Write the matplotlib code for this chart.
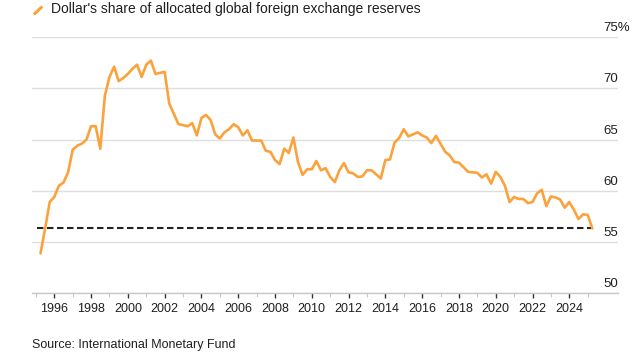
import matplotlib
matplotlib.use("Agg")
import matplotlib.pyplot as plt
import matplotlib.transforms as mtransforms
from matplotlib.lines import Line2D

plt.rcParams['font.family'] = ['Liberation Sans', 'DejaVu Sans']

# ---- data (quarterly, 1995Q1 .. 2025Q1) ----
start_year = 1995
usd_share = [
    53.9, 56.3, 58.9, 59.4, 60.5, 60.8, 61.8, 64.0, 64.4, 64.6,
    65.0, 66.3, 66.3, 64.1, 69.3, 71.1, 72.1, 70.7, 71.0, 71.4,
    71.9, 72.3, 71.1, 72.3, 72.7, 71.4, 71.5, 71.6, 68.5, 67.5,
    66.5, 66.4, 66.3, 66.6, 65.4, 67.1, 67.4, 66.9, 65.5, 65.1,
    65.7, 66.0, 66.5, 66.2, 65.4, 65.9, 64.9, 64.9, 64.9, 63.9,
    63.8, 63.0, 62.6, 64.1, 63.7, 65.2, 62.8, 61.55, 62.1, 62.1,
    62.9, 62.0, 62.2, 61.35, 60.85, 62.0, 62.7, 61.8, 61.7, 61.35,
    61.4, 62.0, 62.0, 61.6, 61.2, 63.0, 63.05, 64.7, 65.15, 66.0,
    65.3, 65.5, 65.7, 65.4, 65.2, 64.65, 65.35, 64.6, 63.8, 63.45,
    62.8, 62.75, 62.3, 61.85, 61.8, 61.75, 61.3, 61.6, 60.7, 61.85,
    61.35, 60.5, 58.9, 59.4, 59.2, 59.2, 58.8, 58.9, 59.75, 60.1,
    58.5, 59.45, 59.35, 59.15, 58.35, 58.9, 58.15, 57.25, 57.7, 57.65,
    56.33,
]
quarters = [f"{start_year + i // 4}Q{i % 4 + 1}" for i in range(len(usd_share))]
x_years = [int(q[:4]) + int(q[-1]) / 4 for q in quarters]  # quarter-end position

y_ticks = [50, 55, 60, 65, 70, 75]
y_tick_labels = ["50", "55", "60", "65", "70", "75%"]
x_major = list(range(1996, 2025, 2))
x_minor = list(range(1995, 2026, 2))
x_labels = [str(y) for y in x_major]

title = "Dollar's share of allocated global foreign exchange reserves"
source = "Source: International Monetary Fund"

ORANGE = '#FBA23C'
DARK = '#1f1f1f'

W, H = 644, 355
fig = plt.figure(figsize=(W / 100, H / 100), dpi=100)
left_px, right_px, top_px, bottom_px = 32.3, 617.7, 37.0, 293.3
ax = fig.add_axes([left_px / W, 1 - bottom_px / H, (right_px - left_px) / W, (bottom_px - top_px) / H])

ax.set_xlim(1994.804, 2026.632)
ax.set_ylim(50, 75)

for s in ['top', 'right', 'left']:
    ax.spines[s].set_visible(False)
ax.spines['bottom'].set_color('#c8c8c8')
ax.spines['bottom'].set_linewidth(1.0)

ax.set_yticks(y_ticks)
ax.set_yticklabels([])
ax.tick_params(axis='y', length=0)
ax.yaxis.grid(True, color='#dedede', linewidth=1.0)
ax.set_axisbelow(True)

ax.set_xticks(x_major)
ax.set_xticklabels(x_labels)
ax.set_xticks(x_minor, minor=True)
ax.tick_params(axis='x', which='major', length=3.6, width=1.0, color='#333333',
               labelsize=9, labelcolor=DARK, pad=3.5)
ax.tick_params(axis='x', which='minor', length=3.0, width=0.8, color='#c8c8c8')

ytrans = mtransforms.blended_transform_factory(ax.transAxes, ax.transData)
for v, lab in zip(y_ticks, y_tick_labels):
    ax.text(0.975, v + 0.58, lab, transform=ytrans, ha='left', va='baseline',
            fontsize=9.5, color=DARK)

# dashed reference at latest value
last = usd_share[-1]
ax.plot([ax.get_xlim()[0] + 0.25, x_years[-1]], [last, last], color='#222222',
        linewidth=1.5, linestyle=(0, (3.1, 1.7)), zorder=2)

ax.plot(x_years, usd_share, color=ORANGE, linewidth=1.9, zorder=3,
        solid_joinstyle='round', solid_capstyle='round')

# title with legend mark
fig.add_artist(Line2D([33.8 / W, 42.3 / W], [1 - 14.5 / H, 1 - 6.5 / H],
                      color=ORANGE, linewidth=2.2, transform=fig.transFigure,
                      solid_capstyle='butt'))
fig.text(51 / W, 1 - 13.3 / H, title, ha='left', va='baseline', fontsize=10, color=DARK)
fig.text(31.7 / W, 1 - 348.3 / H, source, ha='left', va='baseline', fontsize=9, color=DARK)

fig.savefig('out.png', dpi=100)
